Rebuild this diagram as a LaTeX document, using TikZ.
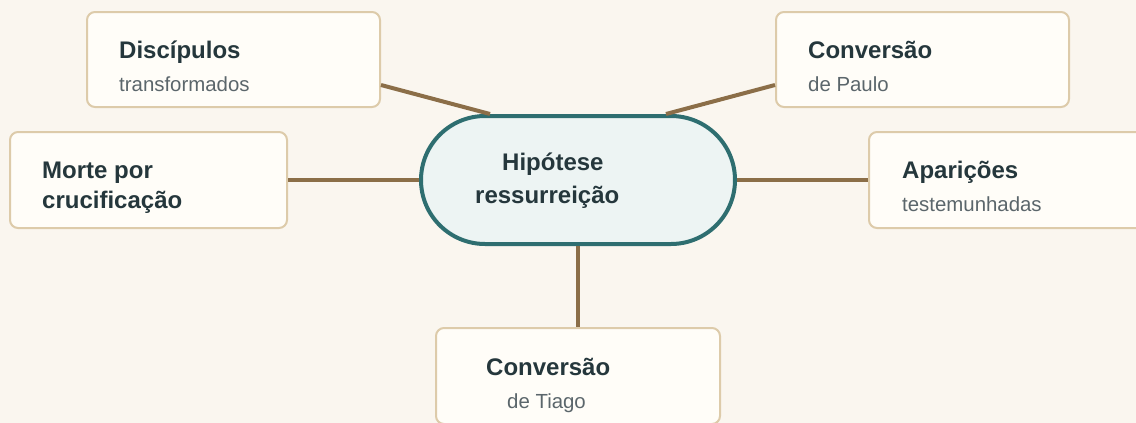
\documentclass[tikz,border=0pt]{standalone}
\usepackage{fontspec}
\setmainfont{Liberation Sans}
\definecolor{bgc}{HTML}{FAF6EF}
\definecolor{boxfill}{HTML}{FFFDF8}
\definecolor{boxdraw}{HTML}{DDCBAA}
\definecolor{hubfill}{HTML}{EDF4F3}
\definecolor{hubdraw}{HTML}{2E6E70}
\definecolor{linkc}{HTML}{8B6E48}
\definecolor{titlec}{HTML}{25373C}
\definecolor{subc}{HTML}{5B666B}
\tikzset{
  card/.style={draw=boxdraw, fill=boxfill, line width=2pt, rounded corners=8pt, inner sep=0pt, outer sep=1pt},
  hub/.style={draw=hubdraw, fill=hubfill, line width=4pt, rounded corners=64pt, inner sep=0pt, outer sep=2pt, minimum width=314pt, minimum height=128pt},
  ttl/.style={anchor=base west, inner sep=0pt, text=titlec, font=\fontsize{24}{30}\selectfont\bfseries},
  sub/.style={anchor=base west, inner sep=0pt, text=subc, font=\fontsize{20.4}{26}\selectfont},
  link/.style={draw=linkc, line width=4pt}
}
\begin{document}
\begin{tikzpicture}[x=1pt,y=-1pt]
\fill[bgc] (0,0) rectangle (1136,423);
\useasboundingbox (0,0) rectangle (1136,423);
\clip (0,0) rectangle (1136,423);
% boxes
\node[card, minimum width=293pt, minimum height=95pt] (disc) at (233.5,59.5) {};
\node[card, minimum width=293pt, minimum height=95pt] (paulo) at (922.5,59.5) {};
\node[card, minimum width=277pt, minimum height=96pt] (morte) at (148.5,180) {};
\node[card, minimum width=293pt, minimum height=96pt] (apar) at (1015.5,180) {};
\node[card, minimum width=284pt, minimum height=96pt] (tiago) at (578,376) {};
\node[hub] (hyp) at (578,180) {};
% connectors
\draw[link] ([yshift=-25.5pt]disc.east) -- ([xshift=-88pt]hyp.north);
\draw[link] ([yshift=-25.5pt]paulo.west) -- ([xshift=88pt]hyp.north);
\draw[link] (morte.east) -- (hyp.west);
\draw[link] (hyp.east) -- (apar.west);
\draw[link] (hyp.south) -- (tiago.north);
% texts
\node[ttl] (discT) at (119,58) {Discípulos};
\node[sub] (discS) at (119,91) {transformados};
\node[ttl] (pauloT) at (808,58) {Conversão};
\node[sub] (pauloS) at (808,91) {de Paulo};
\node[ttl] (morteT1) at (42,178) {Morte por};
\node[ttl] (morteT2) at (42,208) {crucificação};
\node[ttl] (aparT) at (902,178) {Aparições};
\node[sub] (aparS) at (902,211) {testemunhadas};
\node[ttl] (hypT1) at (502,170) {Hipótese};
\node[ttl] (hypT2) at (475,203) {ressurreição};
\node[ttl] (tiagoT) at (486,375) {Conversão};
\node[sub] (tiagoS) at (507,408) {de Tiago};
\end{tikzpicture}
\end{document}
